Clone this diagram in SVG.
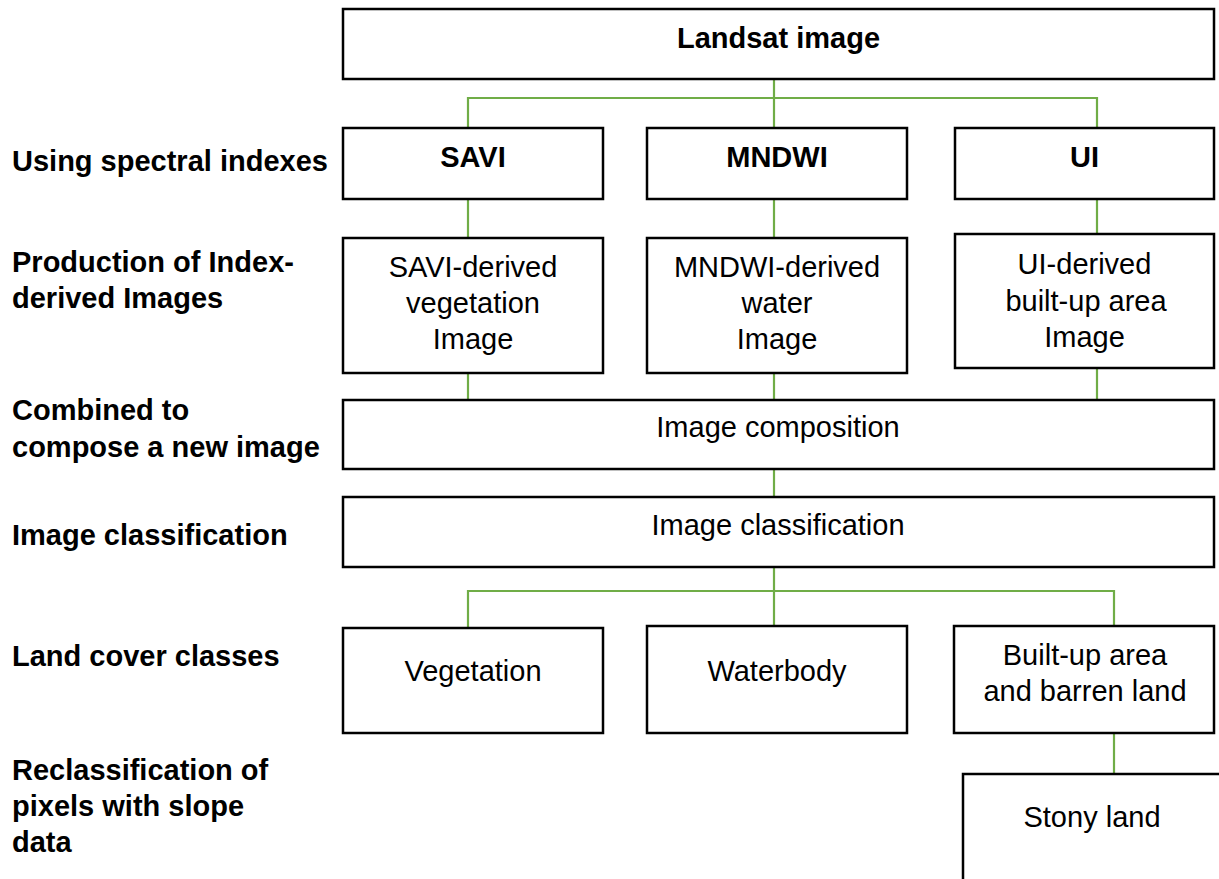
<svg xmlns="http://www.w3.org/2000/svg" width="1219" height="879" viewBox="0 0 1219 879">
<style>
.box{fill:#fff;stroke:#000;stroke-width:2.5}
.c{fill:none;stroke:#70AD47;stroke-width:2.2}
text{font-family:"Liberation Sans",Arial,sans-serif;font-size:29px;fill:#000}
.b{font-weight:bold}
.m{text-anchor:middle}
</style>
<rect width="1219" height="879" fill="#fff"/>
<g id="connectors">
<path class="c" d="M774 79V128M468 128V98H1097V128"/>
<path class="c" d="M468 199V238M774 199V238M1097 199V234"/>
<path class="c" d="M468 373V400M774 373V400M1097 368V400"/>
<path class="c" d="M774 469V497"/>
<path class="c" d="M774 567V626M468 628V591H1114V626"/>
<path class="c" d="M1114 733V774"/>
</g>
<g id="labels" class="b">
<text class="b" x="12" y="171">Using spectral indexes</text>
<text class="b" x="12" y="272">Production of Index-</text>
<text class="b" x="12" y="308">derived Images</text>
<text class="b" x="12" y="420">Combined to</text>
<text class="b" x="12" y="457">compose a new image</text>
<text class="b" x="12" y="545">Image classification</text>
<text class="b" x="12" y="666">Land cover classes</text>
<text class="b" x="12" y="780">Reclassification of</text>
<text class="b" x="12" y="816">pixels with slope</text>
<text class="b" x="12" y="852">data</text>
</g>
<g id="landsat"><rect class="box" x="343" y="9" width="871" height="70"/><text class="b m" x="778.5" y="48">Landsat image</text></g>
<g id="savi"><rect class="box" x="343" y="128" width="260" height="71"/><text class="b m" x="473" y="167">SAVI</text></g>
<g id="mndwi"><rect class="box" x="647" y="128" width="260" height="71"/><text class="b m" x="777" y="167">MNDWI</text></g>
<g id="ui"><rect class="box" x="955" y="128" width="259" height="71"/><text class="b m" x="1084.5" y="167">UI</text></g>
<g id="savi-derived"><rect class="box" x="343" y="238" width="260" height="135"/><text class="m" x="473" y="277">SAVI-derived</text><text class="m" x="473" y="313">vegetation</text><text class="m" x="473" y="349">Image</text></g>
<g id="mndwi-derived"><rect class="box" x="647" y="238" width="260" height="135"/><text class="m" x="777" y="277">MNDWI-derived</text><text class="m" x="777" y="313">water</text><text class="m" x="777" y="349">Image</text></g>
<g id="ui-derived"><rect class="box" x="955" y="234" width="259" height="134"/><text class="m" x="1084.5" y="274">UI-derived</text><text class="m" x="1086" y="311">built-up area</text><text class="m" x="1084.5" y="347">Image</text></g>
<g id="composition"><rect class="box" x="343" y="400" width="871" height="69"/><text class="m" x="778" y="437">Image composition</text></g>
<g id="classification"><rect class="box" x="343" y="497" width="871" height="70"/><text class="m" x="778" y="535">Image classification</text></g>
<g id="vegetation"><rect class="box" x="343" y="628" width="260" height="105"/><text class="m" x="473" y="681">Vegetation</text></g>
<g id="waterbody"><rect class="box" x="647" y="626" width="260" height="107"/><text class="m" x="777" y="681">Waterbody</text></g>
<g id="builtup"><rect class="box" x="954" y="626" width="260" height="107"/><text class="m" x="1085" y="665">Built-up area</text><text class="m" x="1085" y="701">and barren land</text></g>
<g id="stony"><rect class="box" x="963" y="774" width="270" height="120"/><text class="m" x="1092" y="827">Stony land</text></g>
</svg>
